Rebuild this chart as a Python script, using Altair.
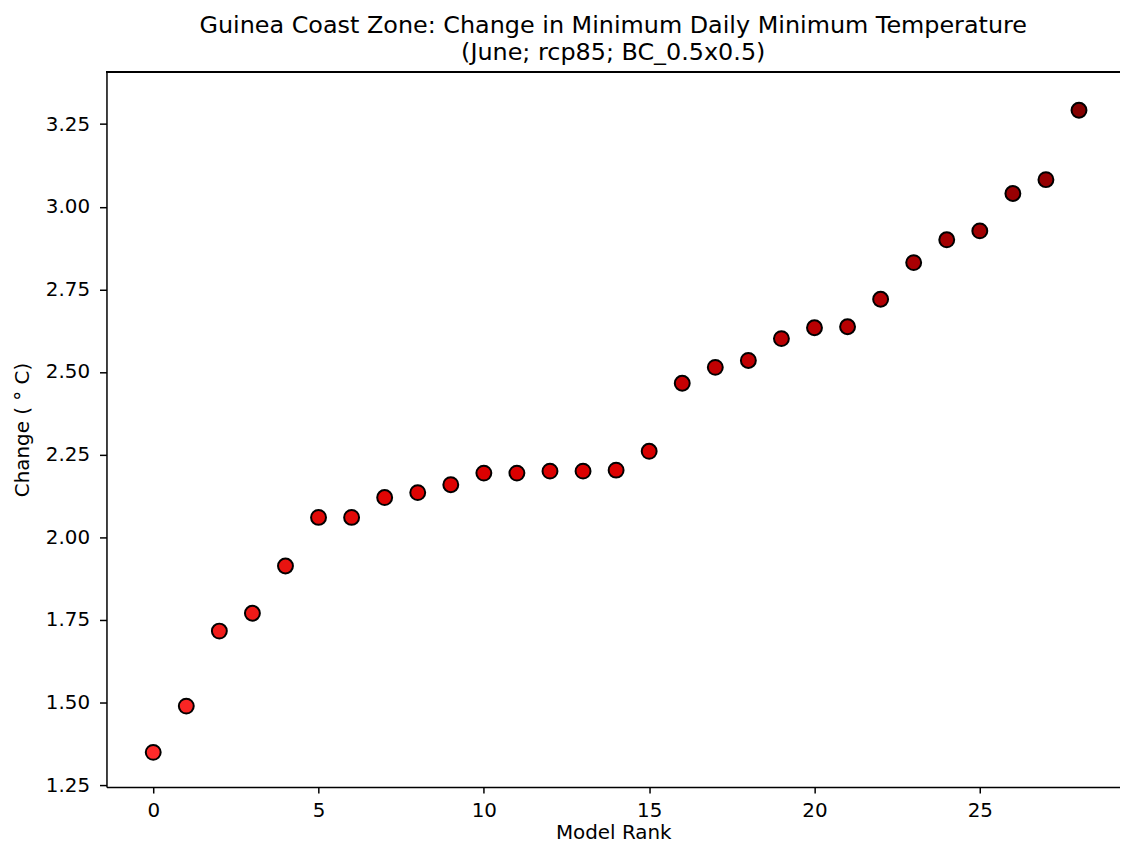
import altair as alt
import pandas as pd

ranks = list(range(29))
changes = [1.349, 1.489, 1.716, 1.770, 1.913, 2.060, 2.060, 2.120, 2.135, 2.159,
           2.194, 2.194, 2.200, 2.200, 2.203, 2.260, 2.466, 2.514, 2.535, 2.601,
           2.634, 2.637, 2.720, 2.831, 2.900, 2.927, 3.040, 3.082, 3.292]
x_ticks = [0, 5, 10, 15, 20, 25]
y_ticks = [1.25, 1.50, 1.75, 2.00, 2.25, 2.50, 2.75, 3.00, 3.25]

df = pd.DataFrame({"rank": ranks, "change": changes})

W, H = 1019, 719
FONT = "DejaVu Sans"

points = alt.Chart(df).mark_point(
    shape="circle", filled=True, size=225, stroke="black", strokeWidth=2, opacity=1
).encode(
    x=alt.X("rank:Q", title="Model Rank",
            scale=alt.Scale(domain=[-1.414, 29.24], nice=False, zero=False),
            axis=alt.Axis(values=x_ticks, format="d", grid=False, tickSize=6,
                          labelFontSize=20, titleFontSize=20, labelPadding=8,
                          titlePadding=2, domainColor="black", tickColor="black",
                          labelColor="black", titleColor="black",
                          titleFontWeight="normal", labelFont=FONT, titleFont=FONT,
                          domainWidth=1.5, tickWidth=1.5)),
    y=alt.Y("change:Q", title="Change ( \u00b0 C)",
            scale=alt.Scale(domain=[1.244, 3.408], nice=False, zero=False),
            axis=alt.Axis(values=y_ticks, format=".2f", grid=False, tickSize=7,
                          labelFontSize=20, titleFontSize=20, labelPadding=10,
                          titlePadding=13, domainColor="black", tickColor="black",
                          labelColor="black", titleColor="black",
                          titleFontWeight="normal", labelFont=FONT, titleFont=FONT,
                          domainWidth=1.5, tickWidth=1.5)),
    fill=alt.Color("change:Q", legend=None,
                   scale=alt.Scale(domain=[1.349, 2.2, 3.292],
                                   range=["#ff2a2a", "#dc0000", "#850000"])),
)

top_border = alt.Chart(df).mark_rule(color="black", strokeWidth=1.5).encode(
    x=alt.value(0), x2=alt.value(W), y=alt.value(0)
)

chart = alt.layer(top_border, points).properties(
    width=W, height=H,
    autosize=alt.AutoSizeParams(type="none"),
    padding={"left": 99, "top": 62, "right": 0, "bottom": 62},
    title=alt.Title(
        ["Guinea Coast Zone: Change in Minimum Daily Minimum Temperature",
         "(June; rcp85; BC_0.5x0.5)"],
        fontSize=24, font=FONT, fontWeight="normal", color="black",
        anchor="middle", offset=6, lineHeight=27),
).configure_view(stroke=None)

chart.save("out.html", embed_options={"renderer": "svg", "actions": False})
